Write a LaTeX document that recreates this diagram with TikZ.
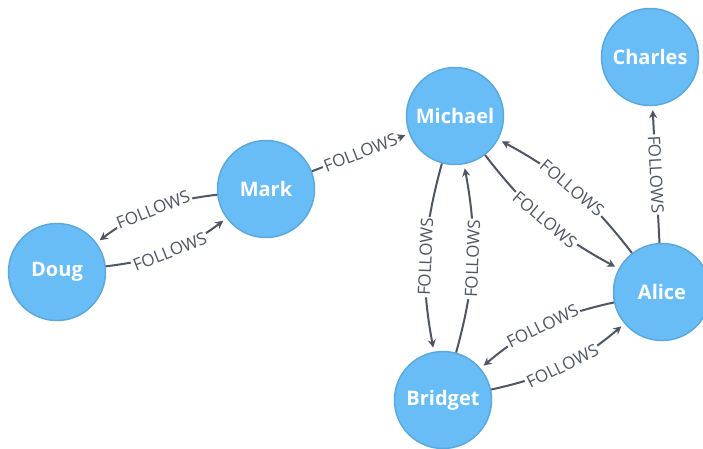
\documentclass[tikz,border=0pt]{standalone}
\usepackage{fontspec}
\setmainfont{Open Sans}
\usetikzlibrary{arrows.meta}
\definecolor{nodeblue}{HTML}{68BDF6}
\definecolor{nodeedge}{HTML}{5CA8DB}
\definecolor{relgray}{HTML}{4F5563}

\begin{document}
\begin{tikzpicture}[x=1pt, y=-1pt,
        person/.style={circle, draw=nodeedge, fill=nodeblue, line width=1.5pt, minimum size=97pt, inner sep=0pt, text=white, font=\fontsize{20}{20}\selectfont\bfseries},
        rel/.style={-{Stealth[length=8pt, width=8pt]}, draw=relgray, line width=2pt, shorten >=4pt},
        follows/.style={sloped, fill=white, text=relgray, inner sep=1.5pt, font=\fontsize{17}{17}\selectfont}]
        \clip (0,0) rectangle (703,448);

        \node[person] (charles) at (650,57) {Charles};
        \node[person] (michael) at (455,116) {Michael};
        \node[person] (mark) at (266,189) {Mark};
        \node[person] (doug) at (57,272) {Doug};
        \node[person] (alice) at (662,292) {Alice};
        \node[person] (bridget) at (443,400) {Bridget};

        \draw[rel] (mark) -- node[follows] {FOLLOWS} (michael);
        \draw[rel] (mark) to[bend right=15] node[follows] {FOLLOWS} (doug);
        \draw[rel] (doug) to[bend right=15] node[follows] {FOLLOWS} (mark);

        \draw[rel] (michael) to[bend right=13] node[follows] {FOLLOWS} (bridget);
        \draw[rel] (bridget) to[bend right=13] node[follows] {FOLLOWS} (michael);

        \draw[rel] (michael) to[bend right=12] node[follows] {FOLLOWS} (alice);
        \draw[rel] (alice) to[bend right=12] node[follows] {FOLLOWS} (michael);

        \draw[rel] (alice) to[bend right=14] node[follows] {FOLLOWS} (bridget);
        \draw[rel] (bridget) to[bend right=14] node[follows] {FOLLOWS} (alice);

        \draw[rel] (alice) -- node[follows] {FOLLOWS} (charles);
\end{tikzpicture}
\end{document}
